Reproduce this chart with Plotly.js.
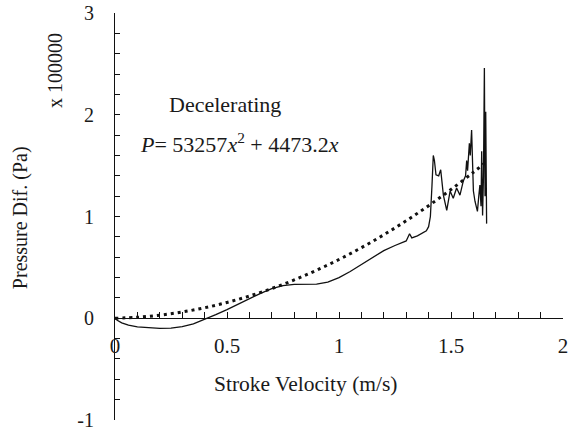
<!DOCTYPE html>
<html>
<head>
<meta charset="utf-8">
<script src="https://cdn.plot.ly/plotly-3.0.1.min.js"></script>
<style>html,body{margin:0;padding:0;background:#fff;}#chart{width:570px;height:430px;}</style>
</head>
<body>
<div id="chart"></div>
<script>
// Measured pressure difference (x 100000 Pa) vs stroke velocity (m/s)
var measuredX = [0, 0.01, 0.03, 0.06, 0.1, 0.15, 0.2, 0.25, 0.3, 0.35, 0.4, 0.45, 0.5, 0.55, 0.6, 0.65, 0.7, 0.75, 0.8, 0.85, 0.9, 0.95, 1.0, 1.05, 1.1, 1.15, 1.2, 1.25, 1.3, 1.315, 1.325, 1.35, 1.39, 1.40, 1.408, 1.415, 1.421, 1.426, 1.433, 1.445, 1.454, 1.466, 1.481, 1.496, 1.51, 1.525, 1.54, 1.555, 1.565, 1.570, 1.574, 1.582, 1.586, 1.592, 1.600, 1.607, 1.612, 1.618, 1.624, 1.629, 1.634, 1.637, 1.641, 1.645, 1.649, 1.652, 1.655, 1.657, 1.659];
var measuredY = [0, -0.02, -0.045, -0.068, -0.085, -0.096, -0.1, -0.097, -0.082, -0.055, -0.012, 0.035, 0.085, 0.14, 0.195, 0.245, 0.29, 0.32, 0.332, 0.333, 0.335, 0.355, 0.40, 0.46, 0.53, 0.60, 0.665, 0.715, 0.76, 0.83, 0.79, 0.81, 0.86, 0.90, 1.0, 1.3, 1.60, 1.55, 1.41, 1.40, 1.46, 1.21, 1.06, 1.25, 1.18, 1.28, 1.21, 1.35, 1.40, 1.55, 1.45, 1.72, 1.60, 1.85, 1.25, 1.15, 1.10, 1.05, 1.20, 1.31, 1.10, 1.64, 1.01, 1.40, 2.46, 1.20, 2.03, 1.30, 0.93];

// Quadratic trend line values (x 100000 Pa), P = 53257x^2 + 4473.2x
var trendX = [0, 0.1, 0.2, 0.3, 0.4, 0.5, 0.6, 0.7, 0.8, 0.9, 1.0, 1.1, 1.2, 1.3, 1.4, 1.5, 1.6, 1.65];
var trendY = [0, 0.0098, 0.0302, 0.0613, 0.1031, 0.1555, 0.2185, 0.2923, 0.3766, 0.4717, 0.5773, 0.6936, 0.8206, 0.9582, 1.1064, 1.2654, 1.4350, 1.5237];

var xTickVals = [0, 0.5, 1, 1.5, 2];
var xTickText = ['0', '0.5', '1', '1.5', '2'];
var yTickVals = [-1, 0, 1, 2, 3];
var yTickText = ['-1', '0', '1', '2', '3'];

var FONT = 'Liberation Serif';
var INK = '#1a1a1a';

var traces = [
  {x: measuredX, y: measuredY, type: 'scatter', mode: 'lines',
   line: {color: '#111', width: 1.3}, hoverinfo: 'skip', showlegend: false},
  {x: trendX, y: trendY, type: 'scatter', mode: 'lines',
   line: {color: '#111', width: 3, dash: '3px,4px', shape: 'spline'}, hoverinfo: 'skip', showlegend: false}
];

var layout = {
  width: 570, height: 430,
  margin: {l: 115, r: 7, t: 13, b: 10},
  paper_bgcolor: '#fff', plot_bgcolor: '#fff',
  font: {family: FONT, size: 20, color: INK},
  showlegend: false,
  xaxis: {
    range: [0, 2], anchor: 'free', position: 0.25,
    showgrid: false, zeroline: false,
    showline: true, linecolor: '#111', linewidth: 1,
    ticks: 'inside', ticklen: 6, tickcolor: '#111', tickwidth: 1,
    tickvals: xTickVals, ticktext: xTickText,
    ticklabelstandoff: 9, ticklabeloverflow: 'allow',
    minor: {ticks: 'inside', dtick: 0.1, ticklen: 6, tickcolor: '#111', tickwidth: 1, showgrid: false},
    tickfont: {family: FONT, size: 21, color: INK}
  },
  yaxis: {
    range: [-1, 3],
    showgrid: false, zeroline: false,
    showline: true, linecolor: '#111', linewidth: 1,
    ticks: 'inside', ticklen: 5, tickcolor: '#111', tickwidth: 1,
    tickvals: yTickVals, ticktext: yTickText,
    ticklabelstandoff: 16, ticklabeloverflow: 'allow',
    minor: {ticks: 'inside', dtick: 0.2, ticklen: 5, tickcolor: '#111', tickwidth: 1, showgrid: false},
    tickfont: {family: FONT, size: 20, color: INK}
  },
  annotations: [
    {text: 'Stroke Velocity (m/s)', xref: 'paper', yref: 'paper', x: 0.426, y: 0.088,
     xanchor: 'center', yanchor: 'middle', showarrow: false, font: {family: FONT, size: 21.5, color: INK}},
    {text: 'Pressure Dif. (Pa)', xref: 'paper', yref: 'paper', x: -0.212, y: 0.496, textangle: -90,
     xanchor: 'center', yanchor: 'middle', showarrow: false, font: {family: FONT, size: 20, color: INK}},
    {text: 'x 100000', xref: 'paper', yref: 'paper', x: -0.134, y: 0.86, textangle: -90,
     xanchor: 'center', yanchor: 'middle', showarrow: false, font: {family: FONT, size: 20, color: INK}},
    {text: 'Decelerating', xref: 'x', yref: 'y', x: 0.49, y: 2.10,
     xanchor: 'center', yanchor: 'middle', showarrow: false, font: {family: FONT, size: 22, color: INK}},
    {text: '<i>P</i>= 53257<i>x</i><sup>2</sup> + 4473.2<i>x</i>', xref: 'x', yref: 'y', x: 0.103, y: 1.72,
     xanchor: 'left', yanchor: 'middle', showarrow: false, font: {family: FONT, size: 22, color: INK}}
  ]
};

Plotly.newPlot('chart', traces, layout, {staticPlot: true, displayModeBar: false});
</script>
</body>
</html>
